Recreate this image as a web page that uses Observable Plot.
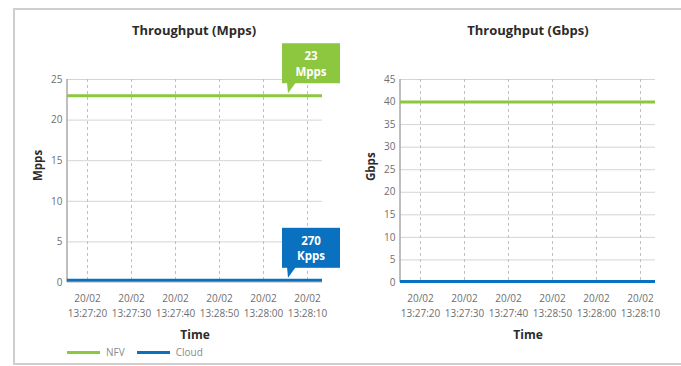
<!DOCTYPE html>
<html>
<head>
<meta charset="utf-8">
<script src="https://cdn.jsdelivr.net/npm/d3@7"></script>
<script src="https://cdn.jsdelivr.net/npm/@observablehq/plot@0.6"></script>
<style>
  html, body { margin: 0; padding: 0; background: #fff; }
  #wrap { position: relative; width: 681px; height: 366px; overflow: hidden; font-family: "Open Sans", sans-serif; }
  .border { position: absolute; left: 13px; top: 8px; width: 700px; height: 353px; border-top: 2px solid #cfcfcf; border-left: 2px solid #cfcfcf; border-bottom: 2px solid #cfcfcf; }
  .title { position: absolute; top: 21px; width: 200px; text-align: center; font-weight: 700; font-size: 13px; color: #2b2b2b; }
  .chart { position: absolute; top: 0; }
  .legend { position: absolute; top: 345px; left: 67px; font-size: 10px; color: #8a8a8a; display: flex; align-items: center; }
  .legend .sw { display: inline-block; width: 33px; height: 3px; margin-right: 6px; }
  .legend .item { display: flex; align-items: center; margin-right: 12px; }
</style>
</head>
<body>
<div id="wrap">
  <div class="border"></div>
</div>
<script>
// ---- data ----
const timeLabels = ["20/02 13:27:20", "20/02 13:27:30", "20/02 13:27:40", "20/02 13:28:50", "20/02 13:28:00", "20/02 13:28:10"];
const seriesNames = ["NFV", "Cloud"];
const seriesColors = ["#8dc63f", "#0a71c0"];
const mppsValues = [23, 0.27];
const gbpsValues = [40, 0.2];
const calloutLabels = [["23", "Mpps"], ["270", "Kpps"]];
const mppsTicks = [0, 5, 10, 15, 20, 25];
const gbpsTicks = [0, 5, 10, 15, 20, 25, 30, 35, 40, 45];

const wrap = document.getElementById("wrap");

function frameLeftLine() {
  return (index, scales, values, dims) => {
    const g = d3.create("svg:g");
    g.append("line")
      .attr("x1", dims.marginLeft).attr("x2", dims.marginLeft)
      .attr("y1", dims.marginTop).attr("y2", dims.height - dims.marginBottom)
      .attr("stroke", "#a8a8a8").attr("stroke-width", 1.5);
    return g.node();
  };
}

function callouts(values, labels, colors) {
  return (index, scales, vals, dims) => {
    const g = d3.create("svg:g");
    const right = dims.width - dims.marginRight + 18;
    const bw = 58, bh = 40;
    values.forEach((v, i) => {
      const yTip = scales.y(v) - 2;
      const left = right - bw;
      const bottom = yTip - 10;
      g.append("rect").attr("x", left).attr("y", bottom - bh).attr("width", bw).attr("height", bh).attr("fill", colors[i]);
      g.append("path").attr("d", `M${left + 5},${bottom - 1}L${left + 14},${bottom - 1}L${left + 6},${yTip}Z`).attr("fill", colors[i]);
      labels[i].forEach((s, k) => {
        g.append("text").attr("fill", "white").attr("font-weight", 700).attr("font-size", 11.5)
          .attr("text-anchor", "middle").attr("font-family", "Open Sans, sans-serif")
          .attr("x", left + bw / 2).attr("y", bottom - bh + 17 + k * 15.5).text(s);
      });
    });
    return g.node();
  };
}

function makeChart({values, ticks, yMax, yLabel, width, marginLeft, marginRight, withCallouts}) {
  const table = seriesNames.map((name, i) => ({name, value: values[i], color: seriesColors[i]}));
  return Plot.plot({
    width, height: 366,
    marginTop: 79, marginBottom: 84, marginLeft, marginRight,
    style: {background: "transparent", fontFamily: "Open Sans, sans-serif", overflow: "visible"},
    x: {type: "point", domain: timeLabels, padding: 0.37, align: 0.57},
    y: {domain: [0, yMax]},
    marks: [
      Plot.gridY(ticks, {stroke: "#d4d4d4", strokeOpacity: 1}),
      Plot.gridX(timeLabels, {stroke: "#c0c0c0", strokeOpacity: 1, strokeDasharray: "3,3"}),
      frameLeftLine(),
      Plot.axisY({ticks, tickSize: 0, tickPadding: 5, fontSize: 10, color: "#6e6e6e", label: null}),
      Plot.axisX({tickSize: 0, tickPadding: 9, fontSize: 10, color: "#6e6e6e", label: null,
        tickFormat: d => d.replace(" ", "\n"), lineHeight: 1.5}),
      Plot.ruleY(table, {y: "value", stroke: "color", strokeWidth: 3}),
      Plot.text([yLabel], {frameAnchor: "left", dx: -29, rotate: -90, fontWeight: 700, fontSize: 11.5, fill: "#2b2b2b"}),
      Plot.text(["Time"], {frameAnchor: "bottom", dy: 56, fontWeight: 700, fontSize: 12, fill: "#2b2b2b"}),
      ...(withCallouts ? [callouts(values, calloutLabels, seriesColors)] : [])
    ]
  });
}

const left = makeChart({values: mppsValues, ticks: mppsTicks, yMax: 25, yLabel: "Mpps", width: 340, marginLeft: 67, marginRight: 18, withCallouts: true});
const right = makeChart({values: gbpsValues, ticks: gbpsTicks, yMax: 45, yLabel: "Gbps", width: 341, marginLeft: 60, marginRight: 26, withCallouts: false});

const rd = document.createElement("div"); rd.className = "chart"; rd.style.left = "340px"; rd.appendChild(right); wrap.appendChild(rd);
const ld = document.createElement("div"); ld.className = "chart"; ld.style.left = "0px"; ld.appendChild(left); wrap.appendChild(ld);

[["Throughput (Mpps)", 94], ["Throughput (Gbps)", 428]].forEach(([t, x]) => {
  const d = document.createElement("div"); d.className = "title"; d.style.left = x + "px"; d.textContent = t; wrap.appendChild(d);
});

const lg = document.createElement("div"); lg.className = "legend";
seriesNames.forEach((n, i) => {
  const it = document.createElement("div"); it.className = "item";
  const sw = document.createElement("span"); sw.className = "sw"; sw.style.background = seriesColors[i];
  it.appendChild(sw); it.appendChild(document.createTextNode(n)); lg.appendChild(it);
});
wrap.appendChild(lg);
</script>
</body>
</html>
